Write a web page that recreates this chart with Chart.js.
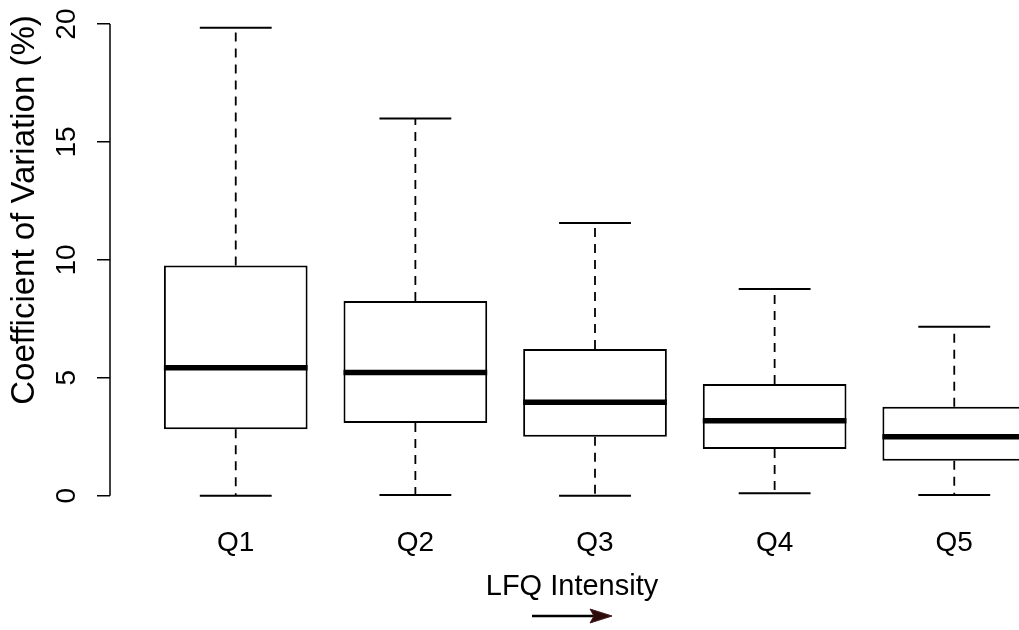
<!DOCTYPE html>
<html lang="en">
<head>
<meta charset="UTF-8" />
<script src="https://cdn.jsdelivr.net/npm/chart.js@4.4.0/dist/chart.umd.min.js"></script>
<title>Coefficient of Variation by LFQ Intensity</title>
<style>
	html, body { margin: 0; padding: 0; overflow: hidden; background: #fff; }
	canvas { display: block; }
</style>
</head>
<body>
<canvas id="chart" width="1080" height="630"></canvas>
<script>
// box statistics (percent)
const categories = ['Q1', 'Q2', 'Q3', 'Q4', 'Q5'];
const whiskerLow = [0, 0.03, 0, 0.1, 0.03];
const lowerQuartile = [2.82, 3.08, 2.5, 1.98, 1.48];
const medians = [5.43, 5.22, 3.96, 3.18, 2.5];
const upperQuartile = [9.76, 8.26, 6.22, 4.74, 3.77];
const whiskerHigh = [19.85, 16.0, 11.56, 8.77, 7.17];
const yTicks = [0, 5, 10, 15, 20];

const yTitle = 'Coefficient of Variation (%)';
const xTitle = 'LFQ Intensity';
const family = "'Liberation Sans', Arial, sans-serif";

// whiskers, staples and medians on top of the floating bars
const boxPlot = {
	id: 'boxPlot',
	afterDatasetsDraw(chart) {
		const ctx = chart.ctx;
		const y = chart.scales.y;
		const bars = chart.getDatasetMeta(0).data;
		ctx.save();
		ctx.strokeStyle = '#000';
		bars.forEach((bar, i) => {
			const half = bar.width / 2;
			const staple = bar.width / 4;

			ctx.setLineDash([9, 7]);
			ctx.lineWidth = 1.8;
			[[upperQuartile[i], whiskerHigh[i]], [lowerQuartile[i], whiskerLow[i]]].forEach(([from, to]) => {
				ctx.beginPath();
				ctx.moveTo(bar.x, y.getPixelForValue(from));
				ctx.lineTo(bar.x, y.getPixelForValue(to));
				ctx.stroke();
			});

			ctx.setLineDash([]);
			ctx.lineWidth = 2;
			[whiskerHigh[i], whiskerLow[i]].forEach((v) => {
				const py = y.getPixelForValue(v);
				ctx.beginPath();
				ctx.moveTo(bar.x - staple, py);
				ctx.lineTo(bar.x + staple, py);
				ctx.stroke();
			});

			ctx.lineWidth = 5.5;
			const my = y.getPixelForValue(medians[i]);
			ctx.beginPath();
			ctx.moveTo(bar.x - half, my);
			ctx.lineTo(bar.x + half, my);
			ctx.stroke();
		});
		ctx.restore();
	},
	afterDraw(chart) {
		const ctx = chart.ctx;
		const y = chart.scales.y;
		const left = chart.chartArea.left;
		ctx.save();
		// y axis line only spans the ticks, as R does
		ctx.strokeStyle = '#000';
		ctx.lineWidth = 1.5;
		ctx.beginPath();
		ctx.moveTo(left, y.getPixelForValue(yTicks[0]));
		ctx.lineTo(left, y.getPixelForValue(yTicks[yTicks.length - 1]));
		ctx.stroke();

		// axis titles
		ctx.fillStyle = '#000';
		ctx.textAlign = 'center';
		ctx.textBaseline = 'middle';
		ctx.font = `33px ${family}`;
		ctx.save();
		ctx.translate(25, 210);
		ctx.rotate(-Math.PI / 2);
		ctx.fillText(yTitle, 0, 0);
		ctx.restore();

		ctx.font = `29px ${family}`;
		const tx = 572;
		ctx.fillText(xTitle, tx, 587);

		// arrow under the x title
		const ay = 616;
		ctx.strokeStyle = '#000';
		ctx.lineWidth = 2.5;
		ctx.beginPath();
		ctx.moveTo(tx - 40, ay);
		ctx.lineTo(tx + 28, ay);
		ctx.stroke();
		ctx.fillStyle = '#2a0c0c';
		ctx.strokeStyle = '#4a1a1a';
		ctx.lineWidth = 1;
		ctx.beginPath();
		ctx.moveTo(tx + 40, ay);
		ctx.lineTo(tx + 18, ay - 7);
		ctx.lineTo(tx + 22, ay);
		ctx.lineTo(tx + 18, ay + 7);
		ctx.closePath();
		ctx.fill();
		ctx.stroke();
		ctx.restore();
	}
};

new Chart(document.getElementById('chart'), {
	type: 'bar',
	data: {
		datasets: [{
			data: categories.map((c, i) => ({ x: i + 1, y: [lowerQuartile[i], upperQuartile[i]] })),
			backgroundColor: '#fff',
			borderColor: '#000',
			borderWidth: 2,
			borderSkipped: false,
			barPercentage: 0.8,
			categoryPercentage: 1
		}]
	},
	options: {
		responsive: false,
		animation: false,
		layout: { padding: { top: 9, right: 0, bottom: 0, left: 0 } },
		plugins: { legend: { display: false }, tooltip: { enabled: false } },
		scales: {
			x: {
				type: 'linear',
				min: 0.3,
				max: 5.7,
				offset: false,
				afterBuildTicks: (s) => { s.ticks = categories.map((c, i) => ({ value: i + 1 })); },
				afterFit: (s) => { s.height = 115.6; s.paddingLeft = 0; s.paddingRight = 0; },
				grid: { display: false, drawTicks: false },
				border: { display: false },
				ticks: {
					padding: 12,
					color: '#000',
					font: { family, size: 28 },
					callback: (v) => categories[Math.round(v) - 1]
				}
			},
			y: {
				min: -0.793,
				max: 20.64,
				afterBuildTicks: (s) => { s.ticks = yTicks.map((v) => ({ value: v })); },
				afterFit: (s) => { s.width = 110; s.paddingTop = 0; s.paddingBottom = 0; },
				grid: { drawOnChartArea: false, drawTicks: true, tickLength: 13, color: '#000', lineWidth: 1.5 },
				border: { display: false },
				ticks: {
					minRotation: 90,
					maxRotation: 90,
					crossAlign: 'center',
					padding: 14,
					color: '#000',
					font: { family, size: 28 }
				}
			}
		}
	},
	plugins: [boxPlot]
});
</script>
</body>
</html>
